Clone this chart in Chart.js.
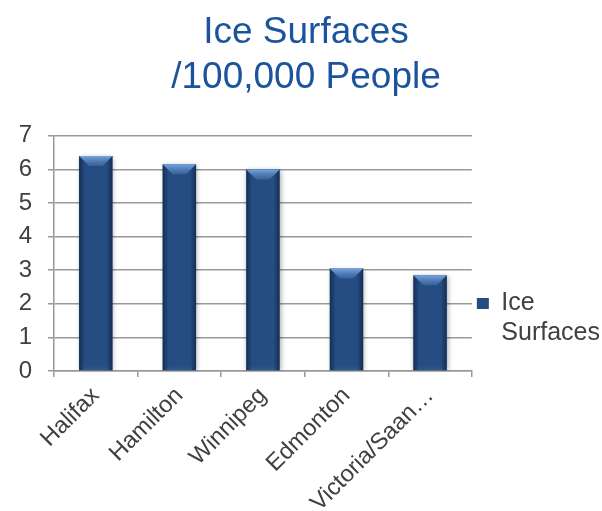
<!DOCTYPE html>
<html>
<head>
<meta charset="utf-8">
<script src="https://cdn.jsdelivr.net/npm/chart.js@4.4.1/dist/chart.umd.min.js"></script>
<style>
  html, body { margin: 0; padding: 0; background: #fff; }
  #wrap { width: 602px; height: 511px; }
</style>
</head>
<body>
<div id="wrap"><canvas id="iceChart"></canvas></div>
<script>
const titleLines = ['Ice Surfaces', '/100,000 People'];
const cities = ['Halifax', 'Hamilton', 'Winnipeg', 'Edmonton', 'Victoria/Saan…'];
const seriesName = 'Ice Surfaces';
const iceSurfaces = [6.4, 6.15, 6.0, 3.05, 2.85];

Chart.defaults.font.family = "'Liberation Sans', Arial, sans-serif";

// bevel look for the columns: soft shadow, dark side edges, lighter top facet
const bevelBars = {
    id: 'bevelBars',
    beforeDatasetDraw(chart) {
        const ctx = chart.ctx;
        ctx.save();
        ctx.shadowColor = 'rgba(0,0,0,0.35)';
        ctx.shadowBlur = 5;
        ctx.shadowOffsetX = 1;
        ctx.shadowOffsetY = 1;
    },
    afterDatasetDraw(chart, args) {
        const ctx = chart.ctx;
        ctx.restore();
        args.meta.data.forEach(bar => {
            const l = bar.x - bar.width / 2;
            const r = bar.x + bar.width / 2;
            const t = bar.y;
            const h = bar.base - bar.y;
            const b = 10;

            const side = ctx.createLinearGradient(l, 0, r, 0);
            side.addColorStop(0, 'rgba(8,20,45,0.55)');
            side.addColorStop(0.18, 'rgba(8,20,45,0)');
            side.addColorStop(0.82, 'rgba(8,20,45,0)');
            side.addColorStop(1, 'rgba(8,20,45,0.55)');
            ctx.fillStyle = side;
            ctx.fillRect(l, t, r - l, h);

            const top = ctx.createLinearGradient(0, t, 0, t + b);
            top.addColorStop(0, '#77a5df');
            top.addColorStop(1, 'rgba(70,115,175,0.55)');
            ctx.beginPath();
            ctx.moveTo(l, t);
            ctx.lineTo(r, t);
            ctx.lineTo(r - b, t + b);
            ctx.lineTo(l + b, t + b);
            ctx.closePath();
            ctx.fillStyle = top;
            ctx.fill();

            const foot = ctx.createLinearGradient(0, bar.base - 6, 0, bar.base);
            foot.addColorStop(0, 'rgba(40,80,130,0)');
            foot.addColorStop(1, 'rgba(60,100,150,0.6)');
            ctx.fillStyle = foot;
            ctx.fillRect(l + 4, bar.base - 6, r - l - 8, 6);
        });
    }
};

// lift the legend a little above the bottom of the plot
const legendLift = {
    id: 'legendLift',
    afterLayout(chart) {
        chart.legend.bottom -= 15;
    }
};

new Chart(document.getElementById('iceChart'), {
    type: 'bar',
    data: {
        labels: cities,
        datasets: [{
            label: seriesName,
            data: iceSurfaces,
            backgroundColor: '#254d82',
            borderWidth: 0,
            categoryPercentage: 1,
            barPercentage: 0.4
        }]
    },
    options: {
        responsive: true,
        maintainAspectRatio: false,
        animation: false,
        layout: { padding: { left: 2, right: -8, top: 0, bottom: 0 } },
        scales: {
            x: {
                grid: { drawOnChartArea: false, tickLength: 6, color: '#999', lineWidth: 1.5 },
                border: { color: '#999', width: 1.5 },
                ticks: {
                    color: '#404040',
                    font: { size: 23.5 },
                    maxRotation: 45,
                    minRotation: 45,
                    autoSkip: false,
                    padding: 5
                },
                afterFit: scale => { scale.height = 140; }
            },
            y: {
                min: 0,
                max: 7,
                ticks: { stepSize: 1, color: '#404040', font: { size: 24 }, padding: 16 },
                grid: { color: '#999', lineWidth: 1.5, tickLength: 6 },
                border: { color: '#999', width: 1.5 },
                afterFit: scale => { scale.width = 52; }
            }
        },
        plugins: {
            title: {
                display: true,
                text: titleLines,
                color: '#1b549c',
                font: { size: 37, weight: 'normal', lineHeight: 1.2 },
                padding: { top: 11, bottom: 36 }
            },
            legend: {
                position: 'right',
                align: 'end',
                fullSize: false,
                labels: {
                    boxWidth: 12,
                    boxHeight: 11,
                    padding: 5,
                    color: '#404040',
                    font: { size: 25, lineHeight: 1.2 },
                    generateLabels(chart) {
                        return Chart.defaults.plugins.legend.labels.generateLabels(chart)
                            .map(item => Object.assign(item, { text: item.text.split(' ') }));
                    }
                }
            },
            tooltip: { enabled: false }
        }
    },
    plugins: [bevelBars, legendLift]
});
</script>
</body>
</html>
